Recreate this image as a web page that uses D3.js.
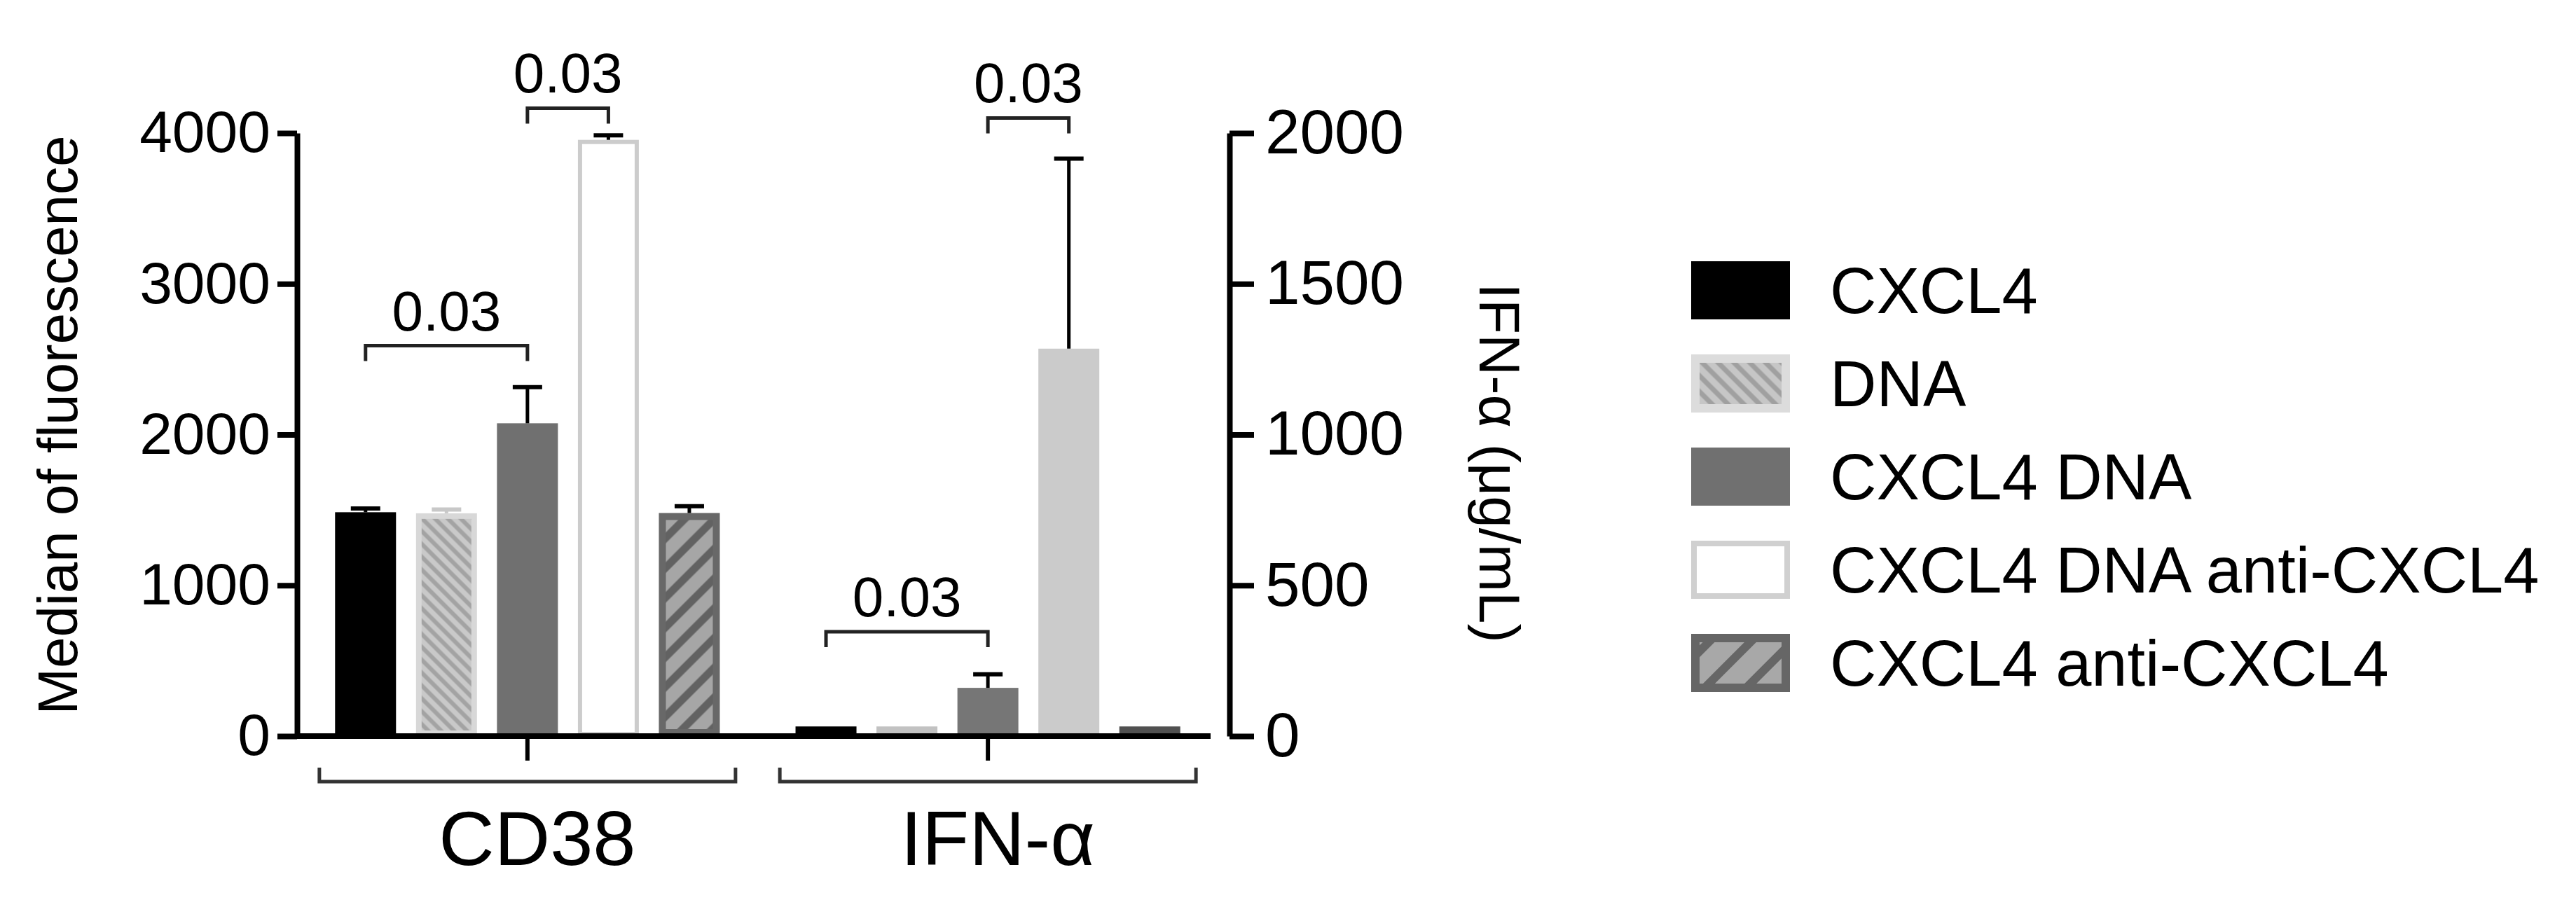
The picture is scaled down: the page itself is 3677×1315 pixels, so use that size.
<!DOCTYPE html>
<html><head><meta charset="utf-8">
<script src="https://cdn.jsdelivr.net/npm/d3@7"></script>
<style>html,body{margin:0;padding:0;background:#fff;} svg{display:block;}</style>
</head><body>
<svg id="chart" width="3677" height="1315"></svg>
<script>
// ---- data ----
const groups = ["CD38", "IFN-α"];
const series = ["CXCL4", "DNA", "CXCL4 DNA", "CXCL4 DNA anti-CXCL4", "CXCL4 anti-CXCL4"];
const cd38Values = [1485, 1478, 2075, 3955, 1480];
const cd38Errors = [25, 25, 240, 30, 45];
const ifnValues = [32, 32, 160, 1285, 32];
const ifnErrors = [0, 0, 45, 630, 0];
const leftTicks = [0, 1000, 2000, 3000, 4000];
const rightTicks = [0, 500, 1000, 1500, 2000];
const sigGroup = ["CD38", "CD38", "IFN-α", "IFN-α"];
const sigFrom = [0, 2, 0, 2];
const sigTo = [2, 3, 2, 3];
const sigLevel = [2590, 4165, 346, 2050];
const sigLabel = ["0.03", "0.03", "0.03", "0.03"];
const leftTitle = "Median of fluorescence";
const rightTitle = "IFN-α (μg/mL)";

// ---- styles ----
const FONT = "'Liberation Sans', Arial, Helvetica, sans-serif";
const fillCD38 = ["#000000", "url(#patDNA)", "#707070", "#ffffff", "url(#patAnti)"];
const strokeCD38 = ["none", "#d8d8d8", "none", "#cccccc", "#686868"];
const strokeWCD38 = [0, 8, 0, 6, 10];
const fillIFN = ["#000000", "#c2c2c2", "#767676", "#cbcbcb", "#505050"];
const errColor = ["#000", "#c8c8c8", "#000", "#000", "#000"];
const legFill = ["#000000", "url(#patDNAleg)", "#707070", "#ffffff", "url(#patAntiLeg)"];
const legStroke = ["none", "#dcdcdc", "none", "#d0d0d0", "#666666"];
const legStrokeW = [0, 12, 0, 8, 12];

const svg = d3.select("#chart");
const defs = svg.append("defs");
function hatch(id, size, angle, bg, fg, w) {
  const p = defs.append("pattern").attr("id", id).attr("patternUnits", "userSpaceOnUse")
    .attr("width", size).attr("height", size).attr("patternTransform", `rotate(${angle})`);
  p.append("rect").attr("width", size).attr("height", size).attr("fill", bg);
  p.append("line").attr("x1", size / 2).attr("x2", size / 2).attr("y1", 0).attr("y2", size)
    .attr("stroke", fg).attr("stroke-width", w);
}
hatch("patDNA", 13, -45, "#c9c9c9", "#a3a3a3", 6);
hatch("patDNAleg", 16, -45, "#c6c6c6", "#a0a0a0", 7);
hatch("patAnti", 30, 45, "#a6a6a6", "#626262", 11);
hatch("patAntiLeg", 42, 45, "#a8a8a8", "#666666", 12);

// ---- scales ----
const x0 = d3.scaleBand().domain(groups).range([464, 1699]).paddingInner(0.121).paddingOuter(0);
const x1 = d3.scaleBand().domain(series).range([0, x0.bandwidth()]).paddingInner(0.247).paddingOuter(0.1235);
const yL = d3.scaleLinear().domain([0, 4000]).range([1051, 190]);
const yR = d3.scaleLinear().domain([0, 2000]).range([1051, 190]);
const yFor = g => g === groups[0] ? yL : yR;
const bw = x1.bandwidth();

// ---- bars ----
const barData = [];
series.forEach((s, i) => {
  barData.push({g: groups[0], s, i, v: cd38Values[i], e: cd38Errors[i],
    fill: fillCD38[i], stroke: strokeCD38[i], sw: strokeWCD38[i]});
  barData.push({g: groups[1], s, i, v: ifnValues[i], e: ifnErrors[i],
    fill: fillIFN[i], stroke: "none", sw: 0});
});
const bars = svg.append("g");
barData.forEach(d => {
  const y = yFor(d.g);
  const x = x0(d.g) + x1(d.s);
  const top = y(d.v), bot = y(0);
  const h = bot - top;
  const sw = Math.min(d.sw, h);
  bars.append("rect")
    .attr("x", x + sw / 2).attr("y", top + sw / 2)
    .attr("width", bw - sw).attr("height", Math.max(0, h - sw))
    .attr("fill", d.fill)
    .attr("stroke", d.stroke).attr("stroke-width", sw);
  if (d.e > 0) {
    const cx = x + bw / 2;
    const ye = y(d.v + d.e);
    bars.append("line").attr("x1", cx).attr("x2", cx).attr("y1", top).attr("y2", ye)
      .attr("stroke", errColor[d.i]).attr("stroke-width", 5);
    bars.append("line").attr("x1", cx - 21).attr("x2", cx + 21).attr("y1", ye).attr("y2", ye)
      .attr("stroke", errColor[d.i]).attr("stroke-width", 6);
  }
});

// ---- axes ----
const fmt = d3.format("d");
const axL = svg.append("g").attr("transform", "translate(424,0)")
  .call(d3.axisLeft(yL).tickValues(leftTicks).tickFormat(fmt).tickSize(28).tickSizeOuter(0).tickPadding(10));
const axR = svg.append("g").attr("transform", "translate(1755,0)")
  .call(d3.axisRight(yR).tickValues(rightTicks).tickFormat(fmt).tickSize(35).tickSizeOuter(0).tickPadding(16));
[axL, axR].forEach(a => {
  a.select(".domain").attr("stroke", "#000").attr("stroke-width", 8);
  a.selectAll(".tick line").attr("stroke", "#000").attr("stroke-width", 8);
  a.selectAll(".tick text").attr("fill", "#000").attr("font-family", FONT);
});
axL.selectAll(".tick text").attr("font-size", 84);
axR.selectAll(".tick text").attr("font-size", 89);

// x axis baseline
svg.append("line").attr("x1", 424).attr("x2", 1728).attr("y1", yL(0)).attr("y2", yL(0))
  .attr("stroke", "#000").attr("stroke-width", 8);

// group ticks, brackets and labels
groups.forEach(g => {
  const c = x0(g) + x0.bandwidth() / 2;
  svg.append("line").attr("x1", c).attr("x2", c).attr("y1", yL(0)).attr("y2", 1086)
    .attr("stroke", "#000").attr("stroke-width", 6);
  svg.append("path").attr("d", `M${c - 297},1096V1116H${c + 297}V1096`)
    .attr("fill", "none").attr("stroke", "#333").attr("stroke-width", 5);
  svg.append("text").attr("x", c + 14).attr("y", 1235).attr("text-anchor", "middle")
    .attr("font-family", FONT).attr("font-size", 110).attr("fill", "#000").text(g);
});

// significance brackets
sigLabel.forEach((lab, k) => {
  const g = sigGroup[k];
  const y = yFor(g)(sigLevel[k]);
  const xa = x0(g) + x1(series[sigFrom[k]]) + bw / 2;
  const xb = x0(g) + x1(series[sigTo[k]]) + bw / 2;
  svg.append("path").attr("d", `M${xa},${y + 22}V${y}H${xb}V${y + 22}`)
    .attr("fill", "none").attr("stroke", "#222").attr("stroke-width", 5);
  svg.append("text").attr("x", (xa + xb) / 2).attr("y", y - 22).attr("text-anchor", "middle")
    .attr("font-family", FONT).attr("font-size", 80).attr("fill", "#000").text(lab);
});

// axis titles
svg.append("text").attr("transform", "translate(110,607) rotate(-90)")
  .attr("text-anchor", "middle").attr("font-family", FONT).attr("font-size", 80)
  .attr("fill", "#000").text(leftTitle);
svg.append("text").attr("transform", "translate(2112,661) rotate(90)")
  .attr("text-anchor", "middle").attr("font-family", FONT).attr("font-size", 82)
  .attr("fill", "#000").text(rightTitle);

// legend
const leg = svg.append("g");
series.forEach((s, i) => {
  const y = 373 + i * 133;
  const sw = legStrokeW[i];
  leg.append("rect").attr("x", 2414 + sw / 2).attr("y", y + sw / 2)
    .attr("width", 141 - sw).attr("height", 83 - sw)
    .attr("fill", legFill[i]).attr("stroke", legStroke[i]).attr("stroke-width", sw);
  leg.append("text").attr("x", 2612).attr("y", y + 41.5).attr("dy", "0.35em")
    .attr("font-family", FONT).attr("font-size", 92).attr("fill", "#000").text(s);
});
</script>
</body></html>
